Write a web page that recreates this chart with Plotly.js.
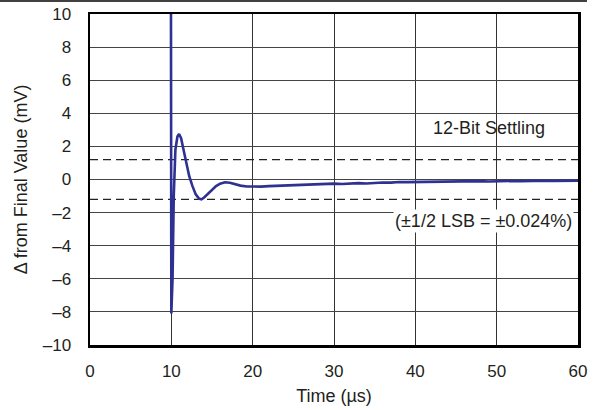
<!DOCTYPE html>
<html>
<head>
<meta charset="utf-8">
<script src="https://cdn.plot.ly/plotly-3.0.1.min.js"></script>
<style>html,body{margin:0;padding:0;background:#fff;}#chart{width:598px;height:410px;}</style>
</head>
<body>
<div id="chart"></div>
<script>
// Settling response (time in µs, delta in mV)
var timeUs = [9.95, 10.0, 10.15, 10.3, 10.5, 10.75, 10.95, 11.2, 11.5, 11.8, 12.2, 12.6, 13.0, 13.4, 13.7, 14.0, 14.5, 15.0, 15.5, 16.0, 16.6, 17.2, 17.8, 18.5, 19.3,
  20, 21, 22, 23, 24, 25, 26, 27, 28, 29, 30, 31, 32, 33, 34, 35, 36, 37, 38, 39, 40,
  41, 42, 43, 44, 45, 46, 47, 48, 49, 50, 51, 52, 53, 54, 55, 56, 57, 58, 59, 60];
var deltaMv = [12, -8.1, -6.0, -1.0, 1.8, 2.6, 2.75, 2.5, 1.8, 1.1, 0.2, -0.4, -0.9, -1.15, -1.2, -1.1, -0.85, -0.6, -0.4, -0.25, -0.17, -0.2, -0.3, -0.37, -0.42,
  -0.44, -0.43, -0.40, -0.38, -0.36, -0.33, -0.34, -0.30, -0.29, -0.26, -0.25, -0.27, -0.23, -0.22, -0.24, -0.20, -0.18, -0.19, -0.15, -0.16, -0.15,
  -0.17, -0.13, -0.14, -0.12, -0.14, -0.11, -0.12, -0.10, -0.12, -0.10, -0.11, -0.09, -0.10, -0.08, -0.10, -0.08, -0.09, -0.07, -0.08, -0.07];
var errorBandMv = 1.2; // ±1/2 LSB band
var xTickVals = [0, 10, 20, 30, 40, 50, 60];
var xTickText = ['0', '10', '20', '30', '40', '50', '60'];
var yTickVals = [-10, -8, -6, -4, -2, 0, 2, 4, 6, 8, 10];
var yTickText = ['\u201310', '\u20138', '\u20136', '\u20134', '\u20132', '0', '2', '4', '6', '8', '10'];
var labelSettling = '12-Bit Settling';
var labelLsb = '(\u00B11/2 LSB = \u00B10.024%)';

var fam = '"Liberation Sans", Arial, sans-serif';
var tickFont = {family: fam, size: 17, color: '#231f20'};
var textFont = {family: fam, size: 18, color: '#231f20'};

var trace = {
  x: timeUs, y: deltaMv, type: 'scatter', mode: 'lines',
  line: {color: '#2e3192', width: 2.6},
  hoverinfo: 'skip', showlegend: false
};

var layout = {
  width: 598, height: 410,
  margin: {l: 90, r: 20, t: 14, b: 65},
  paper_bgcolor: '#fff', plot_bgcolor: '#fff',
  font: textFont,
  showlegend: false,
  xaxis: {
    range: [0, 60], tickvals: xTickVals, ticktext: xTickText,
    showgrid: true, gridcolor: '#333', gridwidth: 1,
    zeroline: false, showline: true, mirror: true, linecolor: '#000', linewidth: 2.5,
    ticks: '', ticklabelstandoff: 9, tickfont: tickFont,
    title: {text: 'Time (\u00B5s)', font: textFont, standoff: 10}
  },
  yaxis: {
    range: [-10, 10], tickvals: yTickVals, ticktext: yTickText,
    showgrid: true, gridcolor: '#444', gridwidth: 1,
    zeroline: false, showline: true, mirror: true, linecolor: '#000', linewidth: 2.5,
    ticks: '', ticklabelstandoff: 13, tickfont: tickFont,
    title: {text: '\u0394 from Final Value (mV)', font: textFont, standoff: 11}
  },
  shapes: [
    {type: 'line', xref: 'x', yref: 'y', x0: 0, x1: 60, y0: errorBandMv, y1: errorBandMv,
     line: {color: '#222', width: 1.2, dash: '8px,5px'}, layer: 'between'},
    {type: 'line', xref: 'x', yref: 'y', x0: 0, x1: 60, y0: -errorBandMv, y1: -errorBandMv,
     line: {color: '#222', width: 1.2, dash: '8px,5px'}, layer: 'between'},
    {type: 'line', xref: 'paper', yref: 'paper', x0: -0.1844, x1: 1.0184, y0: 1.0393, y1: 1.0393,
     line: {color: '#000', width: 1.5}, layer: 'above'}
  ],
  annotations: [
    {x: 49.0, y: 3.13, xref: 'x', yref: 'y', text: labelSettling, showarrow: false,
     xanchor: 'center', yanchor: 'middle', font: textFont},
    {x: 59.45, y: -2.49, xref: 'x', yref: 'y', text: labelLsb, showarrow: false,
     xanchor: 'right', yanchor: 'middle', font: textFont, bgcolor: '#fff'}
  ]
};

Plotly.newPlot('chart', [trace], layout, {staticPlot: true, displayModeBar: false});
</script>
</body>
</html>
